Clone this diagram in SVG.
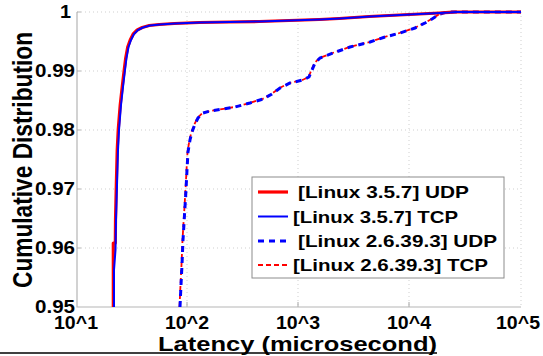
<svg xmlns="http://www.w3.org/2000/svg" width="543" height="356" viewBox="0 0 543 356">
<style>
.grid{stroke:#cfcfcf;stroke-width:1;stroke-dasharray:1 3;fill:none}
.axis{stroke:#b5b5b5;stroke-width:1.2;fill:none}
.tick{font-family:"Liberation Sans",Arial,sans-serif;font-weight:bold;font-size:17.5px;fill:#000}
.lbl{font-family:"Liberation Sans",Arial,sans-serif;font-weight:bold;font-size:21px;fill:#000}
.ylbl{font-family:"Liberation Sans",Arial,sans-serif;font-weight:bold;font-size:22.5px;fill:#000}
.leg{font-family:"Liberation Sans",Arial,sans-serif;font-weight:bold;font-size:17px;fill:#000}
.redS{stroke:#ff0000;stroke-width:3.2;fill:none;stroke-linejoin:round}
.blueS{stroke:#0000ff;stroke-width:2;fill:none;stroke-linejoin:round}
.blueD{stroke:#0000ff;stroke-width:3;fill:none;stroke-dasharray:6 5}
.redD{stroke:#ff0000;stroke-width:1.8;fill:none;stroke-dasharray:5 3}
</style>
<rect width="543" height="356" fill="#fff"/>
<g id="grid">
<path class="grid" d="M77,12H521M77,71H521M77,130H521M77,189H521M77,248H521M187,12V307M298,12V307M409,12V307M521,12V307"/>
</g>
<g id="axes">
<path class="axis" d="M77,12V307H521"/>
<path class="axis" d="M187,307V302M298,307V302M409,307V302M77,71H81M77,130H81M77,189H81M77,248H81M77,12H81"/>
</g>
<g id="ytick-labels">
<text class="tick" x="71" y="18" text-anchor="end" textLength="11" lengthAdjust="spacingAndGlyphs">1</text>
<text class="tick" x="75" y="77" text-anchor="end" textLength="40" lengthAdjust="spacingAndGlyphs">0.99</text>
<text class="tick" x="75" y="136" text-anchor="end" textLength="40" lengthAdjust="spacingAndGlyphs">0.98</text>
<text class="tick" x="75" y="195" text-anchor="end" textLength="40" lengthAdjust="spacingAndGlyphs">0.97</text>
<text class="tick" x="75" y="254" text-anchor="end" textLength="40" lengthAdjust="spacingAndGlyphs">0.96</text>
<text class="tick" x="75" y="313" text-anchor="end" textLength="40" lengthAdjust="spacingAndGlyphs">0.95</text>
</g>
<g id="xtick-labels">
<text class="tick" x="54" y="329" textLength="44" lengthAdjust="spacingAndGlyphs">10^1</text>
<text class="tick" x="165" y="329" textLength="44" lengthAdjust="spacingAndGlyphs">10^2</text>
<text class="tick" x="276" y="329" textLength="44" lengthAdjust="spacingAndGlyphs">10^3</text>
<text class="tick" x="387" y="329" textLength="44" lengthAdjust="spacingAndGlyphs">10^4</text>
<text class="tick" x="496" y="329" textLength="44" lengthAdjust="spacingAndGlyphs">10^5</text>
</g>
<g id="axis-labels">
<text class="lbl" x="158" y="351" textLength="279" lengthAdjust="spacingAndGlyphs">Latency (microsecond)</text>
<text class="ylbl" transform="translate(32,160) scale(1.25,1) rotate(-90)" x="0" y="0" text-anchor="middle" textLength="256" lengthAdjust="spacingAndGlyphs">Cumulative Distribution</text>
</g>
<g id="connectors">
<path id="tcp26" class="redD" d="M179.5,307 L180.5,285 L181.5,265 L182.5,240 L184,215 L185.5,190 L186.5,170 L187.5,152 L189.5,140 L191.5,132 L194.5,124 L197.5,118 L202.5,113 L209.5,111 L219.5,109.5 L234.5,107 L249.5,103 L262.5,99 L271.5,94 L279.5,88 L289.5,83 L302.5,80 L308.5,77 L311.5,70 L314.5,63 L319.5,58 L332.5,53 L349.5,47 L369.5,42 L384.5,37 L399.5,33 L414.5,28 L424.5,23 L431.5,19 L439.5,14 L447,12 L521,12"/>
<path id="udp26" class="blueD" d="M180,307 L181,285 L182,265 L183,240 L184.5,215 L186,190 L187,170 L188,152 L190,140 L192,132 L195,124 L198,118 L203,113 L210,111 L220,109.5 L235,107 L250,103 L263,99 L272,94 L280,88 L290,83 L303,80 L309,77 L312,70 L315,63 L320,58 L333,53 L350,47 L370,42 L385,37 L400,33 L415,28 L425,23 L432,19 L440,14 L447,12 L521,12"/>
<path id="udp35" class="redS" d="M113.3,307 L113.3,272 L113.3,243 L115.3,243 L115.5,220 L116.3,185 L117.2,150 L118.2,130 L120.2,105 L122.2,87 L124.2,70 L125.7,58 L127.7,47 L130.2,40 L133.2,34 L137.2,30 L142.2,27.5 L149.2,25.5 L159.2,24.5 L174.2,23.5 L199.2,22.5 L229.2,22 L259.2,21.5 L289.2,20.5 L319.2,19.5 L339.2,18.5 L369.2,16.5 L399.2,15 L419.2,14 L439.2,13 L449.2,12.3 L455,12 L521,12"/>
<path id="tcp35" class="blueS" d="M114,307 L114,270 L115.5,250 L116,220 L117,185 L118,150 L119,130 L121,105 L123,87 L125,70 L126.5,58 L128.5,47 L131,40 L134,34 L138,30 L143,27.5 L150,25.5 L160,24.5 L175,23.5 L200,22.5 L230,22 L260,21.5 L290,20.5 L320,19.5 L340,18.5 L370,16.5 L400,15 L420,14 L440,13 L450,12.5 L456,12 L521,12"/>
</g>
<g id="legend">
<rect x="252" y="177" width="252" height="101" fill="#fff" stroke="#8c8c8c" stroke-width="1"/>
<line x1="258" y1="192" x2="288" y2="192" class="redS"/>
<line x1="258" y1="216.5" x2="288" y2="216.5" class="blueS"/>
<line x1="258" y1="241" x2="288" y2="241" class="blueD"/>
<line x1="258" y1="265" x2="288" y2="265" class="redD"/>
<text class="leg" x="298" y="198" textLength="171" lengthAdjust="spacingAndGlyphs">[Linux 3.5.7] UDP</text>
<text class="leg" x="293" y="222.5" textLength="165" lengthAdjust="spacingAndGlyphs">[Linux 3.5.7] TCP</text>
<text class="leg" x="298" y="247" textLength="199" lengthAdjust="spacingAndGlyphs">[Linux 2.6.39.3] UDP</text>
<text class="leg" x="293" y="271" textLength="195" lengthAdjust="spacingAndGlyphs">[Linux 2.6.39.3] TCP</text>
</g>
<line x1="0" y1="353" x2="437" y2="353" stroke="#000" stroke-width="1.5"/>
</svg>
